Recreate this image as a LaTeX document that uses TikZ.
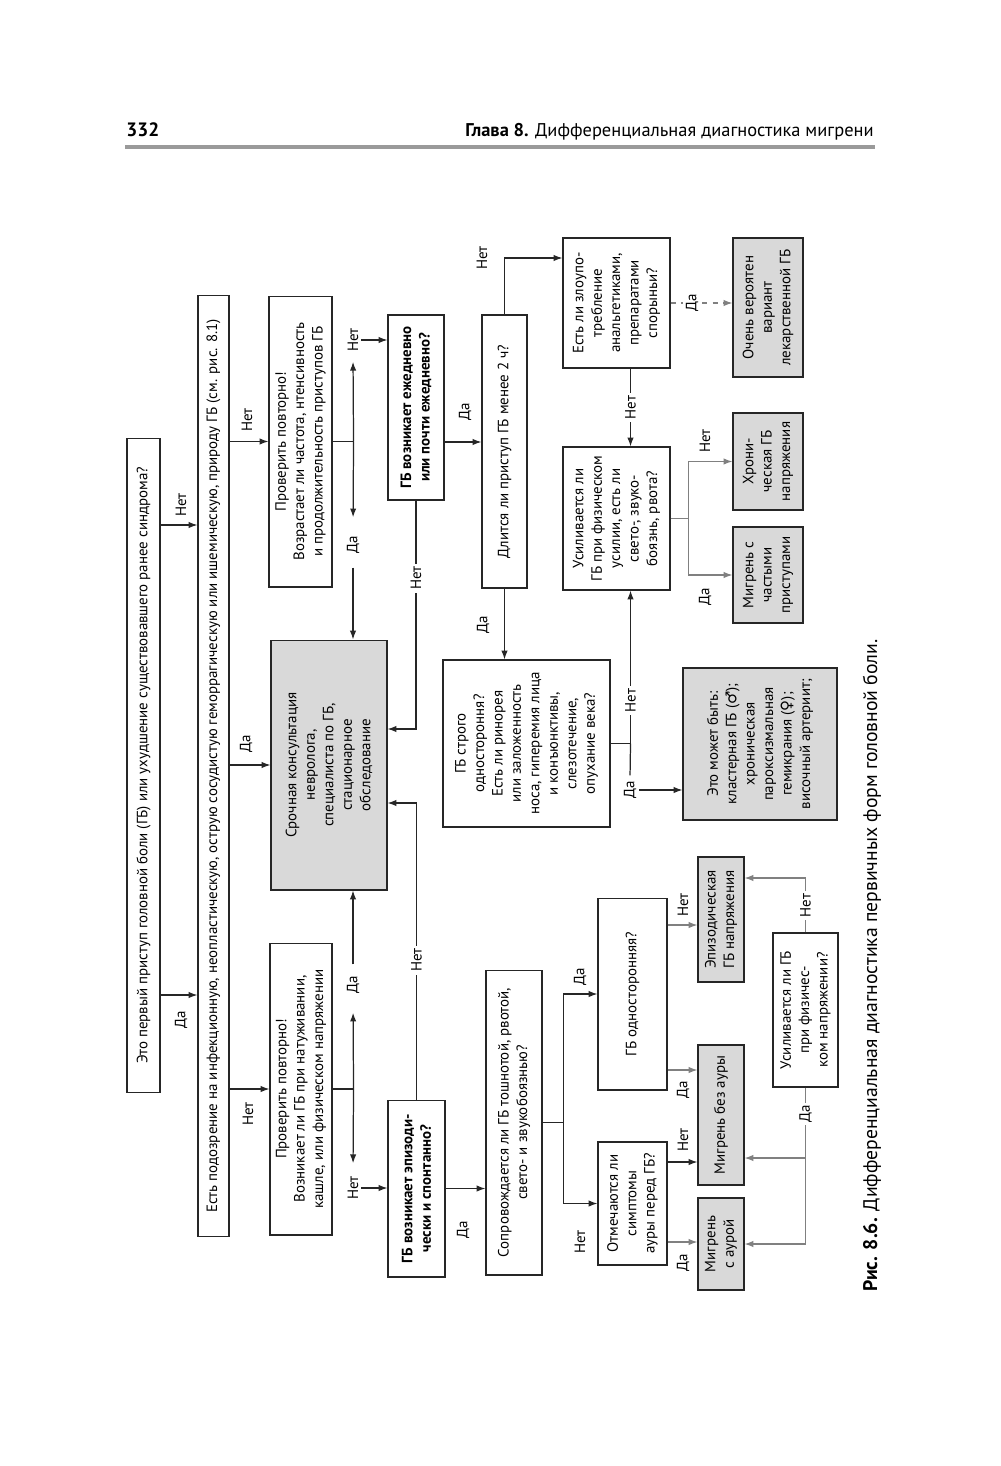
\documentclass[tikz,border=0pt]{standalone}
\usepackage{fontspec}
\setmainfont{PT Sans}
\newfontfamily\signfont{DejaVu Sans}
\usetikzlibrary{arrows.meta,positioning,calc}
\definecolor{boxgray}{HTML}{D9D9D9}
\definecolor{linegray}{HTML}{808080}
\definecolor{rulegray}{HTML}{9A9A9A}
\newcommand\boxfont{\fontsize{8.5}{10.5}\selectfont}

\begin{document}
\begin{tikzpicture}[x=0.02cm,y=-0.02cm,>={Latex[length=5pt,width=3.6pt]},
    box/.style={draw=black!85,line width=0.6pt,rotate=90,align=center,inner sep=1pt,font=\boxfont},
    gbox/.style={box,fill=boxgray},
    bbox/.style={box,font=\boxfont\bfseries},
    lbl/.style={rotate=90,fill=white,text=black,inner sep=1.5pt,font=\boxfont},
    line/.style={line width=0.7pt,black!85},
    arr/.style={line,->},
    garr/.style={line width=0.7pt,linegray,->}]
  \fill[white] (0,0) rectangle (1000,1466);
  \useasboundingbox (0,0) rectangle (1000,1466);

  % page head
  \node[anchor=base west,inner sep=0pt,font=\fontsize{11}{13}\selectfont\bfseries] (pagenum) at (126,137) {332};
  \node[anchor=base east,inner sep=0pt,font=\fontsize{10.5}{13}\selectfont] (chapter) at (874,137)
    {\textbf{Глава 8.} Дифференциальная диагностика мигрени};
  \draw[rulegray,line width=1.8pt] (125,147) -- (875,147);

  % questions and outcomes
  \node[box,minimum width=13.1cm,minimum height=0.66cm] (first) at (143.5,765.5)
    {Это первый приступ головной боли (ГБ) или ухудшение существовавшего ранее синдрома?};
  \node[box,minimum width=18.84cm,minimum height=0.62cm] (organic) at (213.5,766)
    {Есть подозрение на инфекционную, неопластическую, острую сосудистую геморрагическую или ишемическую, природу ГБ (см. рис. 8.1)};
  \node[box,minimum width=5.82cm,minimum height=1.26cm] (recheckA) at (300.5,441.5)
    {Проверить повторно!\\Возрастает ли частота, нтенсивность\\и продолжительность приступов ГБ};
  \node[gbox,minimum width=5cm,minimum height=2.32cm] (urgent) at (329,765)
    {Срочная консультация\\невролога,\\специалиста по ГБ,\\стационарное\\обследование};
  \node[box,minimum width=5.84cm,minimum height=1.24cm] (recheckB) at (301,1089)
    {Проверить повторно!\\Возникает ли ГБ при натуживании,\\кашле, или физическом напряжении};
  \node[bbox,minimum width=3.7cm,minimum height=1.12cm] (daily) at (416,407.5)
    {ГБ возникает ежедневно\\или почти ежедневно?};
  \node[bbox,minimum width=3.54cm,minimum height=1.14cm] (episodic) at (416.5,1188.5)
    {ГБ возникает эпизоди-\\чески и спонтанно?};
  \node[box,minimum width=5.46cm,minimum height=0.9cm] (lasts) at (504.5,451.5)
    {Длится ли приступ ГБ менее 2 ч?};
  \node[box,minimum width=6.1cm,minimum height=1.12cm] (nausea) at (514,1122.5)
    {Сопровождается ли ГБ тошнотой, рвотой,\\свето- и звукобоязнью?};
  \node[box,minimum width=3.34cm,minimum height=3.34cm] (strict) at (526.5,743.5)
    {ГБ строго\\одностороння?\\Есть ли ринорея\\или заложенность\\носа, гиперемия лица\\и конъюнктивы,\\слезотечение,\\опухание века?};
  \node[box,minimum width=2.6cm,minimum height=2.14cm] (abuse) at (616.5,303)
    {Есть ли злоупо-\\требление\\анальгетиками,\\препаратами\\спорыньи?};
  \node[box,minimum width=2.86cm,minimum height=2.14cm] (worse) at (616.5,518.5)
    {Усиливается ли\\ГБ при физическом\\усилии, есть ли\\свето-, звуко-\\боязнь, рвота?};
  \node[gbox,minimum width=3.04cm,minimum height=3.08cm] (maybe) at (760,744)
    {Это может быть:\\кластерная ГБ ({\signfont ♂});\\хроническая\\пароксизмальная\\гемикрания ({\signfont ♀});\\височный артериит;};
  \node[box,minimum width=3.84cm,minimum height=1.38cm] (oneside) at (632.5,994)
    {ГБ односторонняя?};
  \node[box,minimum width=2.46cm,minimum height=1.38cm] (aura) at (632.5,1203.5)
    {Отмечаются ли\\симптомы\\ауры перед ГБ?};
  \node[gbox,minimum width=2.78cm,minimum height=1.4cm] (moh) at (768,307.5)
    {Очень вероятен\\вариант\\лекарственной ГБ};
  \node[gbox,minimum width=1.94cm,minimum height=1.4cm] (ctth) at (768,461.5)
    {Хрони-\\ческая ГБ\\напряжения};
  \node[gbox,minimum width=1.92cm,minimum height=1.4cm] (freq) at (768,575)
    {Мигрень с\\частыми\\приступами};
  \node[gbox,minimum width=2.5cm,minimum height=0.92cm] (etth) at (721,919.5)
    {Эпизодическая\\ГБ напряжения};
  \node[gbox,minimum width=2.8cm,minimum height=0.92cm] (mwoa) at (721,1115)
    {Мигрень без ауры};
  \node[gbox,minimum width=1.84cm,minimum height=0.92cm] (mwa) at (721,1244)
    {Мигрень\\с аурой};
  \node[box,minimum width=3.08cm,minimum height=1.3cm] (tension) at (805.5,1010)
    {Усиливается ли ГБ\\при физичес-\\ком напряжении?};

  % answers standing beside the lines
  \node[lbl] (firstYes) at (181,1020) {Да};
  \node[lbl] (firstNo) at (181,505) {Нет};
  \node[lbl] (organicNo1) at (248,1114) {Нет};
  \node[lbl] (organicYes) at (246,744) {Да};
  \node[lbl] (organicNo2) at (247,420) {Нет};
  \node[lbl] (recheckANo) at (353,340) {Нет};
  \node[lbl] (recheckAYes) at (353,545) {Да};
  \node[lbl] (recheckBYes) at (353,985) {Да};
  \node[lbl] (recheckBNo) at (353,1188) {Нет};
  \node[lbl] (dailyYes) at (465,412) {Да};
  \node[lbl] (lastsNo) at (482,258) {Нет};
  \node[lbl] (lastsYes) at (483,625) {Да};
  \node[lbl] (strictYes) at (630,790) {Да};
  \node[lbl] (worseNo) at (705,441) {Нет};
  \node[lbl] (worseYes) at (705,597) {Да};
  \node[lbl] (episodicYes) at (463,1230) {Да};
  \node[lbl] (nauseaYes) at (580,977) {Да};
  \node[lbl] (nauseaNo) at (580,1242) {Нет};
  \node[lbl] (onesideNo) at (683,905) {Нет};
  \node[lbl] (onesideYes) at (683,1090) {Да};
  \node[lbl] (auraNo) at (683,1140) {Нет};
  \node[lbl] (auraYes) at (683,1263) {Да};

  % first two questions
  \draw[arr] (first.south |- 0,995) -- (organic.north |- 0,995);
  \draw[arr] (first.south |- 0,525) -- (organic.north |- 0,525);
  \draw[arr] (organic.south |- recheckA.north) -- (recheckA.north);
  \draw[arr] (organic.south |- urgent.north) -- (urgent.north);
  \draw[arr] (organic.south |- recheckB.north) -- (recheckB.north);

  % recheck, upper branch
  \coordinate (splitA) at ($(recheckA.south)+(21,0)$);
  \draw[line] (recheckA.south) -- (splitA);
  \draw[arr,shorten >=1.4mm] (splitA) -- (recheckANo.west);
  \draw[arr] (recheckANo.south) -- (recheckANo.south -| daily.north);
  \draw[arr,shorten >=3.2mm] (splitA) -- (recheckAYes.east);
  \draw[arr,shorten <=2.2mm] (recheckAYes.west) -- (recheckAYes.west |- urgent.east);

  % recheck, lower branch
  \coordinate (splitB) at ($(recheckB.south)+(21,0)$);
  \draw[line] (recheckB.south) -- (splitB);
  \draw[arr,shorten >=3.2mm] (splitB) -- (recheckBYes.west);
  \draw[arr,shorten <=1.8mm] (recheckBYes.east) -- (recheckBYes.east |- urgent.west);
  \draw[arr,shorten >=2mm] (splitB) -- (recheckBNo.east);
  \draw[arr] (recheckBNo.south) -- (recheckBNo.south -| episodic.north);

  % back to the urgent box
  \draw[arr] (daily.west) -- (daily.west |- 0,729) node[lbl,pos=0.34] {Нет} -- (urgent.south |- 0,729);
  \draw[arr] (episodic.east) -- (episodic.east |- 0,803) node[lbl,pos=0.47] {Нет} -- (urgent.south |- 0,803);

  % chronic side
  \draw[arr] (daily.south |- 0,442) -- (lasts.north |- 0,442);
  \draw[arr] (lasts.east) -- (lasts.east |- 0,258) -- (abuse.north |- 0,258);
  \draw[arr] (lasts.west) -- (lasts.west |- strict.east);
  \coordinate (splitC) at ($(strict.south)+(20,0)$);
  \draw[line] (strict.south) -- (splitC);
  \draw[arr] (splitC) -- (splitC |- worse.west) node[lbl,pos=0.28] {Нет};
  \draw[line,shorten >=0.6mm] (splitC) -- (strictYes.east);
  \draw[arr] (strictYes.south) -- (strictYes.south -| maybe.north);
  \draw[arr] (abuse.west -| splitC) -- (worse.east -| splitC) node[lbl,midway] {Нет};
  \draw[garr,dashed] (abuse.south) -- (abuse.south -| moh.north) node[lbl,pos=0.35] {Да};
  \draw[garr] (worse.south) -- ++(18,0) |- (ctth.north);
  \draw[garr] (worse.south) -- ++(18,0) |- (freq.north);

  % episodic side
  \draw[arr] (episodic.south) -- (episodic.south -| nausea.north);
  \coordinate (splitD) at ($(nausea.south)+(21,0)$);
  \draw[line] (nausea.south) -- (splitD);
  \draw[arr] (splitD) |- (oneside.north);
  \draw[arr] (splitD) |- (aura.north);
  \draw[arr] (aura.south |- 0,1162) -- (mwoa.north |- 0,1162);
  \draw[garr] (aura.south |- 0,1242) -- (mwa.north |- 0,1242);
  \draw[garr] (oneside.south |- 0,1070) -- (mwoa.north |- 0,1070);
  \draw[garr] (oneside.south |- 0,925) -- (etth.north |- 0,925);
  \draw[garr] (tension.west) -- (tension.west |- mwa.south) node[lbl,pos=0.17] {Да} -- (mwa.south);
  \draw[garr] (tension.west |- 0,1158) -- (mwoa.south |- 0,1158);
  \draw[garr] (tension.east) -- (tension.east |- 0,878) node[lbl,pos=0.5] {Нет} -- (etth.south |- 0,878);

  % caption
  \node[rotate=90,anchor=west,inner sep=0pt,font=\fontsize{11.2}{13}\selectfont] (caption) at (872,1292)
    {\textbf{Рис. 8.6.} Дифференциальная диагностика первичных форм головной боли.};
\end{tikzpicture}
\end{document}
